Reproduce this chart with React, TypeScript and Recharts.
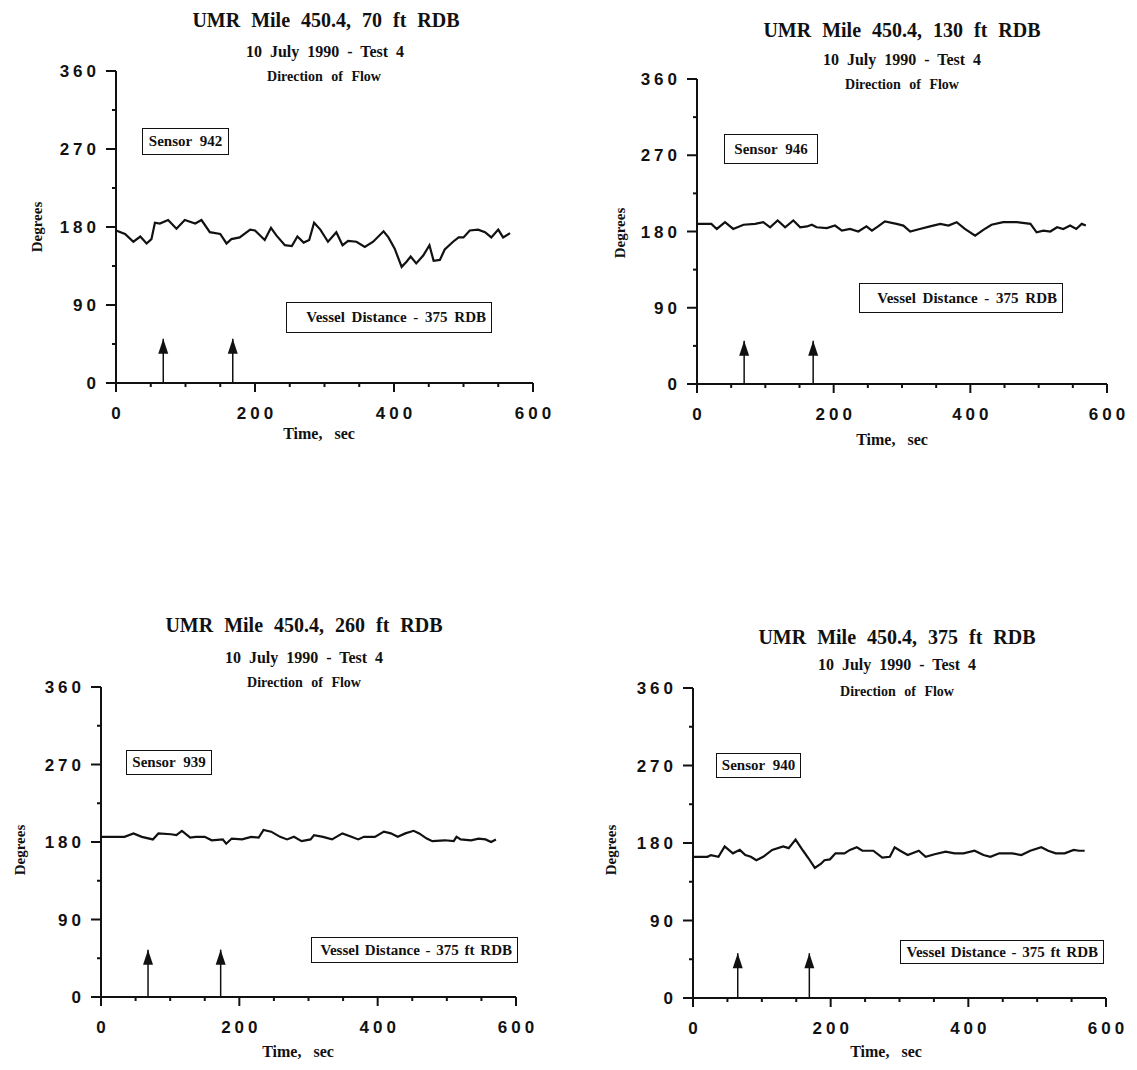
import { LineChart, Line, XAxis, YAxis } from 'recharts';

// sensor 942 (70 ft RDB)
const time942 = [0, 13, 25, 35, 44, 51, 56, 63, 75, 87, 99, 114, 123, 135, 150, 159, 166, 178, 193, 200, 214, 223, 231, 243, 253, 261, 270, 278, 285, 294, 305, 317, 326, 334, 346, 358, 370, 385, 392, 401, 411, 418, 424, 432, 442, 451, 457, 466, 473, 485, 493, 500, 509, 521, 531, 540, 550, 557, 567];
const deg942 = [176, 172, 163, 169, 161, 166, 185, 184, 188, 178, 188, 184, 188, 174, 172, 161, 166, 168, 177, 176, 165, 179, 170, 159, 158, 169, 162, 165, 185, 177, 163, 174, 159, 164, 163, 157, 163, 175, 168, 155, 134, 140, 146, 138, 147, 159, 141, 142, 154, 163, 168, 168, 176, 177, 174, 168, 177, 168, 173];

// sensor 946 (130 ft RDB)
const time946 = [0, 21, 29, 41, 53, 68, 85, 97, 107, 118, 129, 141, 151, 161, 168, 175, 190, 202, 212, 224, 236, 248, 256, 265, 275, 292, 302, 312, 326, 341, 356, 368, 380, 392, 407, 419, 431, 448, 468, 488, 497, 507, 517, 527, 536, 546, 555, 563, 569];
const deg946 = [189, 189, 183, 191, 183, 188, 189, 191, 185, 193, 185, 193, 185, 186, 188, 185, 184, 187, 181, 183, 180, 186, 181, 186, 192, 189, 187, 180, 183, 186, 189, 187, 191, 183, 175, 182, 188, 191, 191, 189, 179, 181, 180, 185, 183, 187, 183, 189, 187];

// sensor 939 (260 ft RDB)
const time939 = [0, 34, 47, 59, 75, 83, 101, 109, 117, 129, 137, 150, 160, 176, 181, 189, 204, 217, 228, 235, 246, 259, 269, 279, 290, 303, 308, 321, 334, 349, 362, 372, 380, 396, 409, 419, 429, 440, 452, 460, 471, 479, 497, 510, 514, 520, 535, 546, 556, 564, 571];
const deg939 = [186, 186, 190, 186, 183, 190, 189, 188, 193, 185, 186, 186, 182, 183, 178, 184, 183, 186, 185, 194, 192, 186, 183, 186, 181, 183, 188, 186, 183, 190, 186, 183, 186, 186, 192, 190, 186, 190, 193, 190, 184, 181, 182, 181, 186, 183, 182, 184, 183, 180, 183];

// sensor 940 (375 ft RDB)
const time940 = [0, 21, 26, 37, 46, 58, 68, 76, 84, 92, 102, 115, 131, 139, 149, 160, 168, 177, 186, 191, 199, 207, 220, 228, 238, 246, 262, 275, 286, 293, 301, 312, 328, 338, 351, 367, 380, 393, 409, 422, 432, 445, 464, 477, 490, 506, 516, 527, 540, 553, 561, 569];
const deg940 = [164, 164, 166, 164, 176, 168, 172, 166, 164, 160, 164, 172, 176, 174, 184, 171, 162, 151, 156, 160, 161, 168, 168, 172, 175, 171, 171, 163, 164, 175, 171, 166, 171, 164, 167, 170, 168, 168, 171, 166, 164, 168, 168, 166, 171, 175, 171, 168, 168, 172, 171, 171];

// vessel passage arrows: time (sec) and arrow tip (deg)
const arrows942 = [68, 168];
const arrows946 = [69, 170];
const arrows939 = [68, 173];
const arrows940 = [65, 169];
const arrowTips = [51, 51, 55, 52];

const xTicks = [0, 50, 100, 150, 200, 250, 300, 350, 400, 450, 500, 550, 600];
const yTicks = [0, 45, 90, 135, 180, 225, 270, 315, 360];

const serif = '"Liberation Serif", "Times New Roman", serif';
const sans = '"Liberation Sans", Arial, sans-serif';
const ink = '#111';

const panels = [
  {
    title: 'UMR Mile 450.4, 70 ft RDB', sensor: 'Sensor 942', vessel: 'Vessel Distance - 375 RDB',
    time: time942, deg: deg942, arrows: arrows942, tip: arrowTips[0],
    plot: { left: 116, top: 71, right: 533, bottom: 383 },
    titleAt: [326, 20], subAt: [325, 52], dirAt: [324, 77], degAt: [37, 227], timeAt: [319, 434],
    sensorBox: [142, 128, 87, 27], vesselBox: [286, 302, 206, 31], vesselWs: 3,
  },
  {
    title: 'UMR Mile 450.4, 130 ft RDB', sensor: 'Sensor 946', vessel: 'Vessel Distance - 375 RDB',
    time: time946, deg: deg946, arrows: arrows946, tip: arrowTips[1],
    plot: { left: 697, top: 79, right: 1107, bottom: 384 },
    titleAt: [902, 30], subAt: [902, 60], dirAt: [902, 85], degAt: [620, 233], timeAt: [892, 440],
    sensorBox: [724, 134, 94, 30], vesselBox: [859, 283, 204, 30], vesselWs: 3,
  },
  {
    title: 'UMR Mile 450.4, 260 ft RDB', sensor: 'Sensor 939', vessel: 'Vessel Distance - 375 ft RDB',
    time: time939, deg: deg939, arrows: arrows939, tip: arrowTips[2],
    plot: { left: 101, top: 687, right: 516, bottom: 997 },
    titleAt: [304, 625], subAt: [304, 658], dirAt: [304, 683], degAt: [20, 850], timeAt: [298, 1052],
    sensorBox: [126, 750, 86, 25], vesselBox: [311, 937, 207, 26], vesselWs: 2,
  },
  {
    title: 'UMR Mile 450.4, 375 ft RDB', sensor: 'Sensor 940', vessel: 'Vessel Distance - 375 ft RDB',
    time: time940, deg: deg940, arrows: arrows940, tip: arrowTips[3],
    plot: { left: 693, top: 688, right: 1106, bottom: 998 },
    titleAt: [897, 637], subAt: [897, 665], dirAt: [897, 692], degAt: [611, 850], timeAt: [886, 1052],
    sensorBox: [716, 753, 85, 25], vesselBox: [900, 940, 204, 24], vesselWs: 2,
  },
];

const renderXTick = (props: any) => {
  const { x, y, payload } = props;
  const major = payload.value % 200 === 0;
  return (
    <g>
      <line x1={x} x2={x} y1={y} y2={y + (major ? 9 : 4)} stroke={ink} strokeWidth={2} />
      {major && (
        <text x={x + 2} y={y + 36} textAnchor="middle" fontFamily={sans} fontWeight="bold"
          fontSize={17} letterSpacing={4} fill={ink}>
          {payload.value}
        </text>
      )}
    </g>
  );
};

const renderYTick = (props: any) => {
  const { x, y, payload } = props;
  const major = payload.value % 90 === 0;
  return (
    <g>
      <line x1={x - (major ? 10 : 4)} x2={x} y1={y} y2={y} stroke={ink} strokeWidth={2} />
      {major && (
        <text x={x - 16} y={y + 6} textAnchor="end" fontFamily={sans} fontWeight="bold"
          fontSize={17} letterSpacing={4} fill={ink}>
          {payload.value}
        </text>
      )}
    </g>
  );
};

const arrowHead = (props: any) => {
  const { cx, cy, index } = props;
  if (index !== 1) return <g key={`a${index}`} />;
  return (
    <path key={`a${index}`} d={`M${cx},${cy} L${cx - 5},${cy + 15} L${cx + 5},${cy + 15} Z`} fill={ink} />
  );
};

function Label({ at, text, size, ws = 0, rotate = false }: any) {
  return (
    <div
      style={{
        position: 'absolute', left: at[0], top: at[1], whiteSpace: 'nowrap',
        transform: `translate(-50%, -50%)${rotate ? ' rotate(-90deg)' : ''}`,
        fontFamily: serif, fontWeight: 'bold', fontSize: size, wordSpacing: ws, color: ink, lineHeight: 1,
      }}
    >
      {text}
    </div>
  );
}

function Box({ box, text, ws, align }: any) {
  return (
    <div
      style={{
        position: 'absolute', left: box[0], top: box[1], width: box[2], height: box[3],
        border: `1.5px solid ${ink}`, boxSizing: 'border-box', display: 'flex', alignItems: 'center',
        justifyContent: align, padding: '0 5px', fontFamily: serif, fontWeight: 'bold', fontSize: 15,
        wordSpacing: ws, whiteSpace: 'nowrap', color: ink, background: '#fff',
      }}
    >
      {text}
    </div>
  );
}

function Panel({ p }: any) {
  const { left, top, right, bottom } = p.plot;
  const width = right - left + 70 + 24;
  const height = bottom - top + 12 + 50;
  const data = p.time.map((t: number, i: number) => ({ t, deg: p.deg[i] }));
  return (
    <>
      <div style={{ position: 'absolute', left: left - 70, top: top - 12 }}>
        <LineChart width={width} height={height} data={data}
          margin={{ top: 12, right: 24, left: 10, bottom: 10 }}>
          <XAxis dataKey="t" type="number" domain={[0, 600]} ticks={xTicks} interval={0}
            height={40} tickSize={0} tickMargin={0} tick={renderXTick}
            axisLine={{ stroke: ink, strokeWidth: 2 }} />
          <YAxis type="number" domain={[0, 360]} ticks={yTicks} interval={0}
            width={60} tickSize={0} tickMargin={0} tick={renderYTick}
            axisLine={{ stroke: ink, strokeWidth: 2 }} />
          <Line dataKey="deg" type="linear" stroke={ink} strokeWidth={2.2} dot={false}
            isAnimationActive={false} />
          {p.arrows.map((t: number) => (
            <Line key={t} data={[{ t, deg: 0 }, { t, deg: p.tip }]} dataKey="deg" type="linear"
              stroke={ink} strokeWidth={1.5} dot={arrowHead} activeDot={false} isAnimationActive={false} />
          ))}
        </LineChart>
      </div>
      <Label at={p.titleAt} text={p.title} size={20} ws={6} />
      <Label at={p.subAt} text="10 July 1990 - Test 4" size={16} ws={4} />
      <Label at={p.dirAt} text="Direction of Flow" size={14} ws={5} />
      <Label at={p.degAt} text="Degrees" size={15} rotate />
      <Label at={p.timeAt} text="Time, sec" size={16} ws={8} />
      <Box box={p.sensorBox} text={p.sensor} ws={4} align="center" />
      <Box box={p.vesselBox} text={p.vessel} ws={p.vesselWs} align="flex-end" />
    </>
  );
}

export default function App() {
  return (
    <div style={{ position: 'absolute', left: 0, top: 0, width: 1137, height: 1070, background: '#fff' }}>
      {panels.map((p) => (
        <Panel key={p.sensor} p={p} />
      ))}
    </div>
  );
}
